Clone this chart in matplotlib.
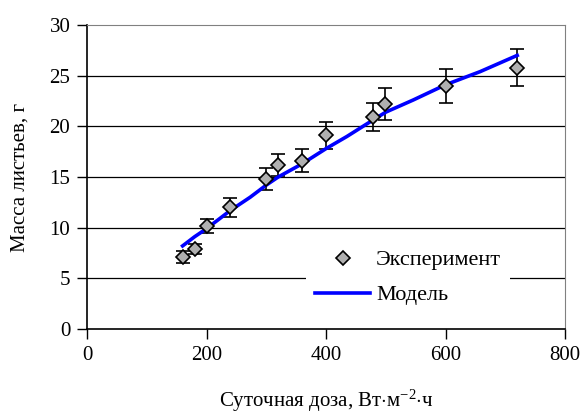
import matplotlib
matplotlib.use("Agg")
import matplotlib.pyplot as plt

# экспериментальные точки
doza = [160, 180, 200, 240, 300, 320, 360, 400, 478, 498, 600, 720]
massa = [7.1, 7.9, 10.2, 12.0, 14.8, 16.2, 16.6, 19.1, 20.9, 22.2, 24.0, 25.8]
oshibka = [0.55, 0.5, 0.7, 0.9, 1.1, 1.1, 1.15, 1.35, 1.4, 1.55, 1.7, 1.8]

# модель
doza_m = [160, 180, 200, 240, 273, 300, 320, 360, 400, 435, 478, 500, 546, 600, 658, 720]
massa_m = [8.2, 9.1, 9.9, 11.7, 13.0, 14.2, 15.0, 16.3, 17.8, 19.0, 20.6, 21.4, 22.6, 24.1, 25.4, 27.0]

plt.rcParams['font.family'] = ['Liberation Serif', 'DejaVu Serif']
plt.rcParams['mathtext.fontset'] = 'custom'
plt.rcParams['mathtext.rm'] = 'Liberation Serif'
plt.rcParams['mathtext.it'] = 'Liberation Serif:italic'

fig = plt.figure(figsize=(5.85, 4.17), dpi=100)
ax = fig.add_axes([87/585, 1 - 329/417, (565 - 87)/585, (329 - 25)/417])

for yy in range(5, 30, 5):
    ax.axhline(yy, color='black', lw=0.9, zorder=1)

ax.errorbar(doza, massa, yerr=oshibka, fmt='none', ecolor='black', elinewidth=1.2,
            capsize=5, capthick=1.2, zorder=3)
ax.plot(doza_m, massa_m, color='#0000ff', lw=2.6, zorder=4, label='Модель')
ax.plot(doza, massa, 'D', ms=7, mfc='#b0b0b0', mec='black', mew=1.2,
        zorder=5, linestyle='none', label='Эксперимент')

h, l = ax.get_legend_handles_labels()
leg = ax.legend(h[::-1], l[::-1], loc='lower left', bbox_to_anchor=(0.435, 0.012),
                frameon=True, fontsize=16, handlelength=2.5, handletextpad=0.25,
                borderpad=0.4, labelspacing=0.65, fancybox=False)
leg.get_frame().set_edgecolor('none')
leg.get_frame().set_facecolor('white')
leg.get_frame().set_alpha(1)
leg.set_zorder(6)

ax.set_xlim(0, 800)
ax.set_ylim(0, 30)
ax.set_xticks([0, 200, 400, 600, 800])
ax.set_yticks([0, 5, 10, 15, 20, 25, 30])
ax.tick_params(direction='out', length=7, width=1, labelsize=15, pad=5, colors='black')
ax.spines['top'].set_color('#808080')
ax.spines['right'].set_color('#808080')
ax.spines['left'].set_linewidth(1.2)
ax.spines['bottom'].set_linewidth(1.2)

ax.set_xlabel('Суточная доза, Вт$\\cdot$м$^{-2}$$\\cdot$ч', fontsize=15, labelpad=17)
ax.set_ylabel('Масса листьев, г', fontsize=15, labelpad=14)

fig.savefig('out.png', dpi=100)
